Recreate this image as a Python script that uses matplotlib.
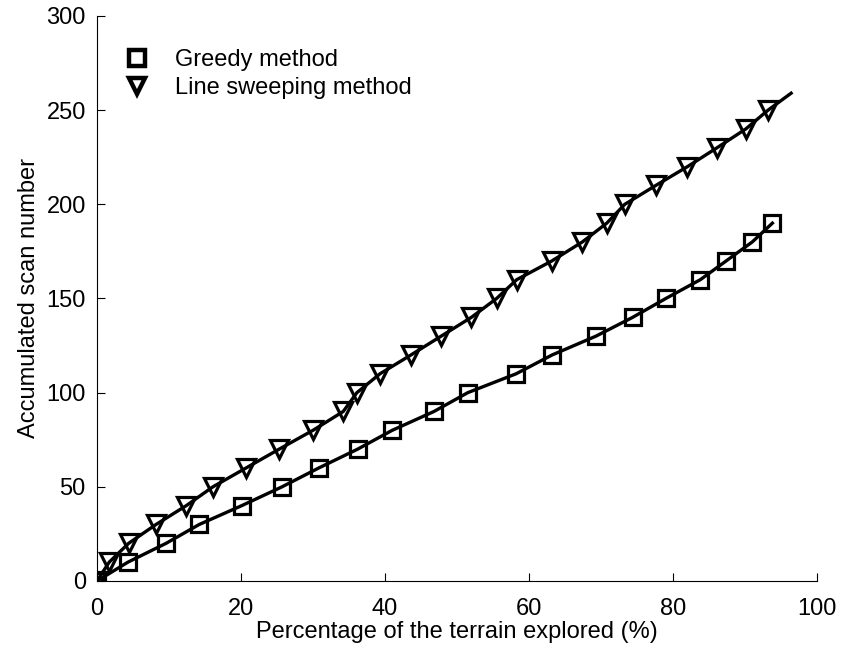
import matplotlib
matplotlib.use("Agg")
import matplotlib.pyplot as plt
from matplotlib.lines import Line2D

# Greedy method (squares)
greedy_x = [0, 4.3, 9.6, 14.2, 20.1, 25.7, 30.8, 36.2, 41.0, 46.8,
            51.5, 58.2, 63.2, 69.3, 74.4, 79.0, 83.8, 87.4, 91.0, 93.8]
greedy_y = [0, 10, 20, 30, 40, 50, 60, 70, 80, 90,
            100, 110, 120, 130, 140, 150, 160, 170, 180, 190]

# Line sweeping method (triangles)
sweep_x = [0, 1.7, 4.4, 8.2, 12.4, 16.1, 20.7, 25.3, 30.0, 34.2,
           36.1, 39.3, 43.6, 47.8, 52.0, 55.5, 58.3, 63.2, 67.4, 70.8,
           73.3, 77.6, 82.0, 86.1, 90.1, 93.2]
sweep_y = [0, 10, 20, 30, 40, 50, 60, 70, 80, 90,
           100, 110, 120, 130, 140, 150, 160, 170, 180, 190,
           200, 210, 220, 230, 240, 250]
# the sweeping curve runs a bit past its last marker
sweep_end_x = 96.4
sweep_end_y = 259

plt.rcParams['font.family'] = ['Liberation Sans', 'DejaVu Sans']
FS = 17

fig = plt.figure(figsize=(8.41, 6.55), dpi=100)
ax = fig.add_axes([0.1153, 0.1130, 0.9715 - 0.1153, 0.9756 - 0.1130])

ax.plot(greedy_x, greedy_y, '-', color='black', linewidth=2.4)
ax.plot(sweep_x + [sweep_end_x], sweep_y + [sweep_end_y], '-', color='black', linewidth=2.4)
ax.plot(greedy_x, greedy_y, 's', markersize=11, markeredgewidth=2.3,
        markerfacecolor='none', markeredgecolor='black')
ax.plot(sweep_x, sweep_y, 'v', markersize=13, markeredgewidth=2.3,
        markerfacecolor='none', markeredgecolor='black')

handles = [
    Line2D([], [], linestyle='none', marker='s', markersize=11, markeredgewidth=3.2,
           markerfacecolor='none', markeredgecolor='black', label='Greedy method'),
    Line2D([], [], linestyle='none', marker='v', markersize=12, markeredgewidth=3.2,
           markerfacecolor='none', markeredgecolor='black', label='Line sweeping method'),
]
ax.legend(handles=handles, loc='upper left', bbox_to_anchor=(0.023, 0.941),
          frameon=False, fontsize=FS, handlelength=2.0, handletextpad=0.6,
          labelspacing=0.25, borderaxespad=0, borderpad=0)

ax.set_xlim(0, 100)
ax.set_ylim(0, 300)
ax.set_xticks([0, 20, 40, 60, 80, 100])
ax.set_yticks([0, 50, 100, 150, 200, 250, 300])
ax.spines['top'].set_visible(False)
ax.spines['right'].set_visible(False)
for s in ('left', 'bottom'):
    ax.spines[s].set_linewidth(0.8)
ax.tick_params(direction='in', length=6, width=0.8, labelsize=FS)
ax.tick_params(axis='x', pad=12)
ax.tick_params(axis='y', pad=8)
ax.set_xlabel('Percentage of the terrain explored (%)', fontsize=FS, labelpad=1)
ax.set_ylabel('Accumulated scan number', fontsize=FS, labelpad=5)

fig.savefig('out.png', dpi=100)
